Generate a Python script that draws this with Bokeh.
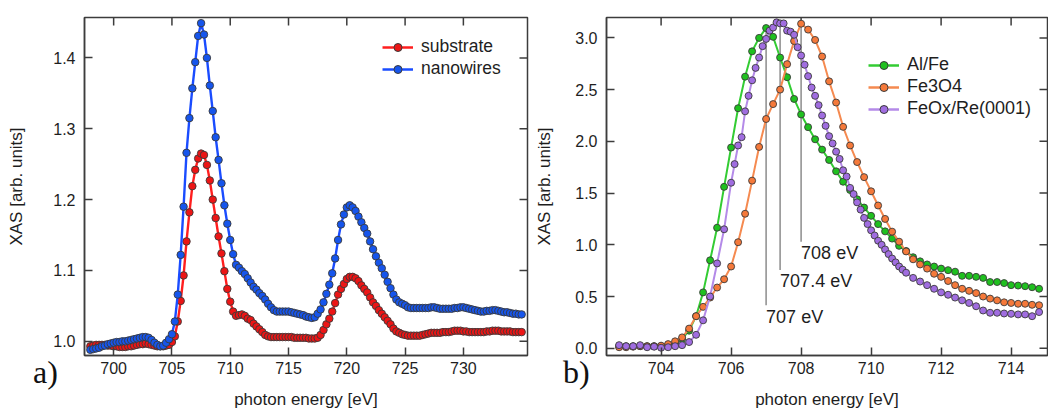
import numpy as np
from bokeh.plotting import figure
from bokeh.models import (Range1d, FixedTicker, PrintfTickFormatter,
                          Legend, LegendItem, ColumnDataSource, GridBox, Div)
from bokeh.embed import file_html
from bokeh.resources import INLINE
from bokeh.core.properties import value

# ---------------- data: panel a ----------------
energy_a = np.round(np.arange(698.0, 735.001, 0.25), 2)

nanowires = [
    0.988, 0.989, 0.990, 0.991,
    0.993, 0.994, 0.996, 0.997,
    0.998, 0.999, 0.999, 1.000,
    1.000, 1.001, 1.002, 1.003,
    1.004, 1.005, 1.006, 1.006,
    1.005, 1.002, 0.998, 0.995,
    0.993, 0.994, 0.998, 1.003,
    1.010, 1.028, 1.066, 1.122,
    1.190, 1.266, 1.315, 1.357,
    1.394, 1.431, 1.449, 1.433,
    1.400, 1.361, 1.325, 1.288,
    1.256, 1.223, 1.192, 1.166,
    1.143, 1.123, 1.108, 1.104,
    1.099, 1.095, 1.089, 1.083,
    1.077, 1.073, 1.068, 1.064,
    1.059, 1.053, 1.048, 1.044,
    1.042, 1.042, 1.042, 1.042,
    1.042, 1.041, 1.040, 1.039,
    1.038, 1.037, 1.035, 1.034,
    1.033, 1.034, 1.039, 1.045,
    1.055, 1.067, 1.080, 1.096,
    1.117, 1.143, 1.165, 1.179,
    1.189, 1.192, 1.189, 1.184,
    1.176, 1.168, 1.160, 1.152,
    1.141, 1.130, 1.120, 1.111,
    1.103, 1.094, 1.084, 1.075,
    1.066, 1.059, 1.055, 1.053,
    1.051, 1.048, 1.047, 1.047,
    1.047, 1.047, 1.047, 1.047,
    1.047, 1.048, 1.048, 1.047,
    1.046, 1.046, 1.046, 1.046,
    1.046, 1.047, 1.047, 1.048,
    1.048, 1.047, 1.046, 1.045,
    1.044, 1.043, 1.042, 1.042,
    1.043, 1.043, 1.044, 1.044,
    1.043, 1.042, 1.041, 1.041,
    1.040, 1.039, 1.039, 1.038,
    1.038,
]

substrate = [
    0.993, 0.994, 0.995, 0.995,
    0.995, 0.995, 0.994, 0.994,
    0.993, 0.993, 0.992, 0.992,
    0.992, 0.993, 0.993, 0.994,
    0.995, 0.996, 0.996, 0.997,
    0.996, 0.995, 0.994, 0.993,
    0.993, 0.993, 0.994, 0.995,
    0.999, 1.007, 1.028, 1.057,
    1.093, 1.141, 1.182, 1.219,
    1.242, 1.258, 1.265, 1.263,
    1.249, 1.227, 1.200, 1.174,
    1.148, 1.124, 1.099, 1.074,
    1.056, 1.042, 1.036, 1.037,
    1.038, 1.036, 1.032, 1.030,
    1.025, 1.021, 1.017, 1.013,
    1.009, 1.007, 1.006, 1.006,
    1.006, 1.006, 1.006, 1.006,
    1.006, 1.006, 1.005, 1.005,
    1.005, 1.005, 1.005, 1.004,
    1.004, 1.004, 1.005, 1.009,
    1.016, 1.024, 1.032, 1.042,
    1.054, 1.066, 1.074, 1.081,
    1.088, 1.091, 1.091, 1.089,
    1.085, 1.079, 1.074, 1.069,
    1.062, 1.055, 1.050, 1.044,
    1.039, 1.034, 1.029, 1.024,
    1.018, 1.014, 1.012, 1.010,
    1.009, 1.008, 1.008, 1.008,
    1.008, 1.008, 1.009, 1.010,
    1.011, 1.012, 1.012, 1.012,
    1.012, 1.013, 1.013, 1.013,
    1.014, 1.015, 1.015, 1.015,
    1.014, 1.014, 1.013, 1.013,
    1.013, 1.013, 1.013, 1.013,
    1.014, 1.014, 1.015, 1.015,
    1.015, 1.014, 1.014, 1.014,
    1.014, 1.013, 1.013, 1.013,
    1.013,
]

# ---------------- data: panel b ----------------
energy_b = np.round(np.arange(702.8, 714.801, 0.2), 1)

al_fe = [
    0.02, 0.02, 0.02, 0.02, 0.02, 0.02, 0.02,
    0.03, 0.05, 0.09, 0.17, 0.31,
    0.54, 0.85, 1.165, 1.56, 1.94,
    2.32, 2.625, 2.87, 3.00, 3.095,
    3.01, 2.81, 2.62, 2.41, 2.26,
    2.137, 2.02, 1.92, 1.82, 1.71,
    1.61, 1.53, 1.44, 1.36, 1.28,
    1.20, 1.13, 1.06, 0.99, 0.94,
    0.88, 0.84, 0.81, 0.79, 0.77,
    0.755, 0.74, 0.70, 0.70, 0.69,
    0.68, 0.64, 0.64, 0.63, 0.61,
    0.606, 0.60, 0.59, 0.575,
]

fe3o4 = [
    0.01, 0.01, 0.015, 0.02, 0.02, 0.02, 0.025,
    0.04, 0.067, 0.105, 0.19, 0.31,
    0.40, 0.49, 0.587, 0.667, 0.79,
    1.025, 1.30, 1.62, 1.946, 2.216,
    2.36, 2.50, 2.746, 2.97, 3.137,
    3.08, 2.98, 2.82, 2.58, 2.375,
    2.14, 1.96, 1.80, 1.654, 1.517,
    1.38, 1.25, 1.127, 1.03, 0.936,
    0.86, 0.81, 0.77, 0.72, 0.69,
    0.65, 0.61, 0.575, 0.555, 0.533,
    0.50, 0.48, 0.463, 0.444, 0.438,
    0.43, 0.43, 0.42, 0.416,
]

energy_c = np.round(np.concatenate([
    np.arange(702.8, 705.801, 0.2),
    np.arange(706.0, 711.001, 0.1),
    np.arange(711.2, 714.801, 0.2),
]), 1)

feox_re = [
    0.03, 0.02, 0.02, 0.03, 0.01, 0.015, 0.005, 0.01,
    0.02, 0.03, 0.06, 0.13, 0.27, 0.50, 0.82, 1.15,
    1.60, 1.78, 1.96, 2.04, 2.29, 2.44, 2.59, 2.71, 2.81, 2.92,
    2.99, 3.07, 3.10, 3.15, 3.14, 3.14, 3.07, 3.06, 3.03, 2.91,
    2.83, 2.74, 2.63, 2.52, 2.44, 2.35, 2.25, 2.15, 2.05, 1.98,
    1.90, 1.83, 1.72, 1.66, 1.55, 1.49, 1.41, 1.34, 1.26, 1.20,
    1.14, 1.09, 1.04, 1.00, 0.955, 0.91, 0.867, 0.83, 0.79, 0.76,
    0.73,
    0.68, 0.645, 0.61, 0.575, 0.54, 0.517, 0.49, 0.463, 0.438, 0.406,
    0.365, 0.343, 0.343, 0.336, 0.333, 0.327, 0.327, 0.31, 0.35,
]

ann_x = [707.0, 707.4, 708.0]
ann_top = [3.09, 3.15, 3.17]
ann_bottom = [0.416, 0.756, 1.03]
ann_text_y = [0.40, 0.745, 1.022]
ann_labels = ["707 eV", "707.4 eV", "708 eV"]

panel_tags = ["a)", "b)"]

xticks_a = [700, 705, 710, 715, 720, 725, 730]
yticks_a = [1.0, 1.1, 1.2, 1.3, 1.4]
xticks_b = [704, 706, 708, 710, 712, 714]
yticks_b = [0.0, 0.5, 1.0, 1.5, 2.0, 2.5, 3.0]

FONT = "Liberation Sans"
AX_COL = "#3c3c3c"
TXT = "#1e1e1e"
EDGE = "#3a3a3a"
H = 414


def make_fig(width, xr, yr, xticks, yticks, xfmt, yfmt, bl, br, bt, bb, ylab_standoff):
    p = figure(width=width, height=H, x_range=Range1d(*xr), y_range=Range1d(*yr),
               output_backend="svg", toolbar_location=None,
               min_border_left=bl, min_border_right=br, min_border_top=bt, min_border_bottom=bb,
               x_axis_label="photon energy [eV]", y_axis_label="XAS [arb. units]")
    p.grid.visible = False
    p.border_fill_alpha = 0
    p.outline_line_color = AX_COL
    p.outline_line_width = 1.5
    p.xaxis.ticker = FixedTicker(ticks=xticks)
    p.xaxis.formatter = PrintfTickFormatter(format=xfmt)
    p.yaxis.ticker = FixedTicker(ticks=yticks)
    p.yaxis.formatter = PrintfTickFormatter(format=yfmt)
    for ax in p.axis:
        ax.major_tick_in = 8
        ax.major_tick_out = 0
        ax.minor_tick_line_color = None
        ax.axis_line_color = AX_COL
        ax.axis_line_width = 1.5
        ax.major_tick_line_color = AX_COL
        ax.major_tick_line_width = 1.5
        ax.major_label_text_font = FONT
        ax.major_label_text_font_size = "16px"
        ax.major_label_text_color = TXT
        ax.axis_label_text_font = FONT
        ax.axis_label_text_font_size = "17px"
        ax.axis_label_text_font_style = "normal"
        ax.axis_label_text_color = TXT
    p.xaxis.major_label_standoff = 6
    p.xaxis.axis_label_standoff = 13
    p.yaxis.major_label_standoff = 9
    p.yaxis.axis_label_standoff = ylab_standoff
    # mirrored inner ticks on top and right edges (clipped to the frame)
    p.scatter(x=xticks, y=[yr[1]] * len(xticks), marker="dash", size=16, angle=np.pi / 2,
              line_color=AX_COL, line_width=1.5)
    p.scatter(x=[xr[1]] * len(yticks), y=yticks, marker="dash", size=16,
              line_color=AX_COL, line_width=1.5)
    return p


def series(p, x, y, fill, line, size=7, lw=2.2):
    p.line(x, y, line_color=line, line_width=lw)
    p.scatter(x, y, size=size, fill_color=fill, line_color=EDGE, line_width=0.9)


def legend_items(p, specs, far):
    items = []
    for label, fill, line in specs:
        src = ColumnDataSource(data=dict(x=[far[0]], y=[far[1]]))
        lr = p.line("x", "y", source=src, line_color=line, line_width=2.5)
        sr = p.scatter("x", "y", source=src, size=10, fill_color=fill, line_color=EDGE, line_width=1)
        items.append(LegendItem(label=label, renderers=[lr, sr]))
    return items


def add_legend(p, items, loc, font_size, glyph_w):
    lg = Legend(items=items, location=loc, border_line_color=None, background_fill_alpha=0,
                padding=0, margin=0, spacing=1, glyph_width=glyph_w, glyph_height=20,
                label_height=20, label_standoff=8, label_text_font=FONT,
                label_text_font_size=font_size, label_text_color=TXT)
    p.add_layout(lg)


def tag_div(text, left, top):
    html = ('<span style="font-family: \'Liberation Serif\', serif; font-size: 32px; '
            'line-height: 32px; color: #111111; white-space: nowrap;">%s</span>' % text)
    return Div(text=html, width=40, height=34, margin=(top, 0, 0, left),
               styles={"position": "relative", "z-index": "10"})


# ---------------- panel a ----------------
xr_a, yr_a = (697.5, 735.5), (0.980, 1.457)
pa = make_fig(530, xr_a, yr_a, xticks_a, yticks_a, "%d", "%.1f",
              84, 3, 17, H - 356, 24)
series(pa, energy_a, substrate, "#ec1515", "#ff1e1e", size=7.5, lw=2.4)
series(pa, energy_a, nanowires, "#1655ec", "#1a4cff", size=7.5, lw=2.4)
items_a = legend_items(pa, [("substrate", "#ec1515", "#ff1e1e"),
                            ("nanowires", "#1655ec", "#1a4cff")], (600.0, 0.0))
add_legend(pa, items_a, (298, 276), "17.5px", 31)

# ---------------- panel b ----------------
xr_b, yr_b = (702.44, 715.04), (-0.07, 3.197)
pb = make_fig(518, xr_b, yr_b, xticks_b, yticks_b, "%d", "%.1f",
              76, 1, 12, H - 355, 18)
pb.segment(x0=ann_x, y0=ann_bottom, x1=ann_x, y1=ann_top, line_color="#8c8c8c", line_width=1.5)
pb.text(x=ann_x, y=ann_text_y, text=ann_labels, text_font=value(FONT), text_font_size="18px",
        text_baseline="top", text_align="left", text_color=TXT)
series(pb, energy_b, al_fe, "#1fc01f", "#33cc33", size=7, lw=2)
series(pb, energy_b, fe3o4, "#f5793a", "#f58a50", size=7, lw=2)
series(pb, energy_c, feox_re, "#a06de0", "#b48ae8", size=7, lw=2)
items_b = legend_items(pb, [("Al/Fe", "#1fc01f", "#33cc33"),
                            ("Fe3O4", "#f5793a", "#f58a50"),
                            ("FeOx/Re(0001)", "#a06de0", "#b48ae8")], (600.0, 0.0))
add_legend(pb, items_b, (262, 236), "18px", 31)

div_a = tag_div(panel_tags[0], 33, 356)
div_b = tag_div(panel_tags[1], 33, 356)

layout = GridBox(children=[(pa, 0, 0), (pb, 0, 1), (div_a, 0, 0), (div_b, 0, 1)], spacing=0)
open("out.html", "w").write(file_html(layout, INLINE))
